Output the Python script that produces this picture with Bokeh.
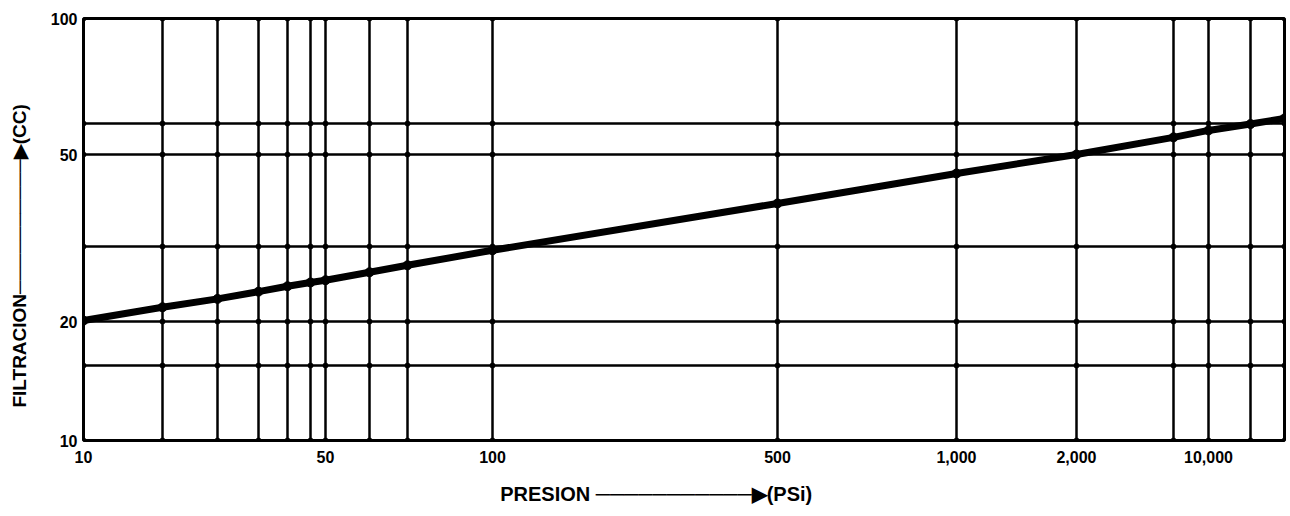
import numpy as np
from bokeh.plotting import figure
from bokeh.models import FixedTicker, Range1d
from bokeh.embed import file_html
from bokeh.resources import INLINE

# ---------------- data ----------------
# ruled lines of the hand-drawn log paper
pressure_grid = [10, 20, 30, 40, 44, 47, 50, 60, 70, 100, 500, 1000, 2000, 5000, 10000, 12000, 15000]
filtration_grid = [10, 15, 20, 30, 50, 60, 100]

# the curve: filtration (cc) vs pressure (psi)
pressure = [10, 20, 30, 40, 44, 47, 50, 60, 70, 100, 500, 1000, 2000, 5000, 10000, 12000, 15000]
filtration = [20.1, 21.6, 22.6, 23.5, 24.2, 24.7, 25.0, 26.1, 27.1, 29.4, 38.1, 45.0, 50.0, 55.3, 57.6, 59.8, 61.5]

x_tick_values = [10, 50, 100, 500, 1000, 2000, 10000]
x_tick_labels = ["10", "50", "100", "500", "1,000", "2,000", "10,000"]
y_tick_values = [10, 20, 50, 100]
y_tick_labels = ["10", "20", "50", "100"]

# ---------------- the paper's own (irregular, hand-ruled) scales ----------------
# distance of each ruled line along its axis, in paper units
x_paper = [0, 79, 134, 175, 204, 227, 242, 286, 324, 409, 694, 873, 993, 1090, 1125, 1167, 1201]
y_paper = [0, 75, 119, 194, 286, 317, 422]


def sx(v):
    return np.interp(np.log10(np.asarray(v, dtype=float)), np.log10(pressure_grid), x_paper)


def sy(v):
    return np.interp(np.log10(np.asarray(v, dtype=float)), np.log10(filtration_grid), y_paper)


FONT = "Liberation Sans"
NB = "\u00A0"

p = figure(width=1290, height=512,
           x_range=Range1d(sx(pressure_grid[0]), sx(pressure_grid[-1])),
           y_range=Range1d(sy(filtration_grid[0]), sy(filtration_grid[-1])),
           output_backend="svg", toolbar_location=None,
           min_border_left=83, min_border_right=6, min_border_top=18, min_border_bottom=72)

p.background_fill_color = "white"
p.border_fill_color = "white"
p.outline_line_color = "black"
p.outline_line_width = 3

# grid
p.xgrid.ticker = FixedTicker(ticks=list(sx(pressure_grid)))
p.ygrid.ticker = FixedTicker(ticks=list(sy(filtration_grid)))
for g in (p.xgrid, p.ygrid):
    g.grid_line_color = "black"
    g.grid_line_width = 2.5
    g.grid_line_alpha = 1.0

# axes
p.xaxis.ticker = FixedTicker(ticks=list(sx(x_tick_values)))
p.xaxis.major_label_overrides = {float(k): lab for k, lab in zip(sx(x_tick_values), x_tick_labels)}
p.yaxis.ticker = FixedTicker(ticks=list(sy(y_tick_values)))
p.yaxis.major_label_overrides = {float(k): lab for k, lab in zip(sy(y_tick_values), y_tick_labels)}

for ax in (p.xaxis[0], p.yaxis[0]):
    ax.axis_line_color = None
    ax.major_tick_line_color = None
    ax.minor_tick_line_color = None
    ax.major_tick_out = 0
    ax.major_tick_in = 0
    ax.major_label_text_font = FONT
    ax.major_label_text_font_style = "bold"
    ax.major_label_text_font_size = "16px"
    ax.major_label_text_color = "black"
    ax.axis_label_text_font = FONT
    ax.axis_label_text_font_style = "bold"
    ax.axis_label_text_color = "black"

p.xaxis.major_label_standoff = 10
p.yaxis.major_label_standoff = 6
p.xaxis.axis_label = ("PRESION " + "\u2500" * 11 + "\u25B6(PSi)" + NB * 10)
p.xaxis.axis_label_text_font_size = "20px"
p.xaxis.axis_label_standoff = 17
p.yaxis.axis_label = ("FILTRACION" + "\u2500" * 10 + "\u25B6(CC)" + NB * 10)
p.yaxis.axis_label_text_font_size = "19px"
p.yaxis.axis_label_standoff = 18

# grid-node dots
gx, gy = np.meshgrid(sx(pressure_grid), sy(filtration_grid))
p.scatter(gx.ravel(), gy.ravel(), size=5, color="black")

# the curve
cx, cy = sx(pressure), sy(filtration)
p.line(cx, cy, line_width=7, color="black", line_cap="round", line_join="round")
p.scatter(cx, cy, size=9, color="black")

open("out.html", "w").write(file_html(p, INLINE))
